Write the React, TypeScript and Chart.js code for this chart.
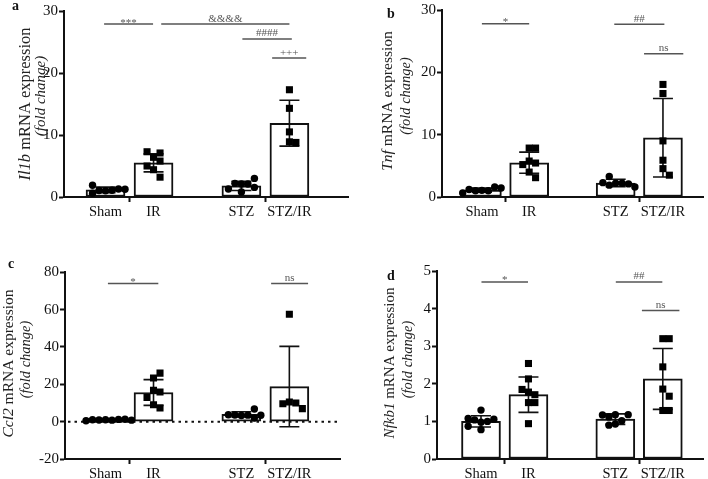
import React, { useEffect, useRef } from 'react';
import { Chart, registerables } from 'chart.js';
Chart.register(...registerables);

const FONT = "'Liberation Serif', 'Times New Roman', serif";
Chart.defaults.font.family = FONT;

const groups = ['Sham', 'IR', 'STZ', 'STZ/IR'];

// ---- a: Il1b ----
const il1bSham = [1.0, 1.1, 1.05, 1.3, 1.9, 1.25, 0.6];
const il1bIR = [6.4, 4.4, 5.8, 7.1, 3.2, 5.0, 7.3];
const il1bSTZ = [2.1, 2.1, 2.2, 3.0, 1.55, 1.3, 0.8];
const il1bSTZIR = [17.3, 14.3, 10.5, 8.9, 8.8];
const il1bMean = [1.15, 5.5, 1.8, 11.9];
const il1bSD = [0.45, 1.45, 0.75, 3.7];
const il1bSigLabels = ['***', '&&&&', '####', '+++'];
const il1bSigY = [27.9, 27.9, 25.5, 22.4];

// ---- b: Tnf ----
const tnfSham = [1.07, 1.0, 1.0, 1.6, 1.2, 1.45, 0.65];
const tnfIR = [5.77, 7.85, 4.0, 5.45, 7.85, 3.1, 5.2];
const tnfSTZ = [2.2, 2.2, 1.9, 3.3, 2.1, 2.3, 1.6];
const tnfSTZIR = [18.06, 16.6, 9.0, 5.9, 4.55, 3.5];
const tnfMean = [1.1, 5.5, 2.25, 9.5];
const tnfSD = [0.33, 1.7, 0.6, 6.3];
const tnfSigLabels = ['*', '##', 'ns'];
const tnfSigY = [27.8, 27.7, 23.0];

// ---- c: Ccl2 ----
const ccl2Sham = [1.0, 0.8, 0.9, 1.2, 1.0, 1.3, 0.5, 0.8];
const ccl2IR = [16.8, 23.4, 9.1, 15.9, 26.0, 7.3, 12.9];
const ccl2STZ = [3.3, 3.5, 3.6, 6.8, 3.7, 3.4, 2.0];
const ccl2STZIR = [10.5, 10.0, 57.5, 9.6, 7.0];
const ccl2Mean = [0.95, 15.6, 3.9, 18.8];
const ccl2SD = [0.25, 6.9, 1.4, 21.5];
const ccl2SigLabels = ['*', 'ns'];
const ccl2SigY = [74, 74];

// ---- d: Nfkb1 ----
const nfkb1Sham = [0.98, 1.0, 1.04, 1.3, 1.06, 0.87, 1.08, 0.78];
const nfkb1IR = [1.78, 1.5, 2.54, 2.13, 1.71, 1.5, 1.85, 0.94];
const nfkb1STZ = [1.18, 1.02, 1.12, 0.93, 1.18, 0.9, 1.17];
const nfkb1STZIR = [3.2, 3.2, 2.45, 1.86, 1.67, 1.29, 1.29];
const nfkb1Mean = [1.0, 1.71, 1.06, 2.13];
const nfkb1SD = [0.15, 0.47, 0.14, 0.81];
const nfkb1SigLabels = ['*', '##', 'ns'];
const nfkb1SigY = [4.71, 4.71, 3.95];

// ---- layout (not data) ----
const groupX = [1, 2, 3.83, 4.83];
const separatorX = [1.5, 4.33];

type Panel = {
  letter: string; gene: string;
  points: number[][]; mean: number[]; sd: number[];
  sigLabels: string[]; sigY: number[]; sigSpan: number[][];
  yMin: number; yMax: number; yStep: number; zeroLine?: boolean;
  box: { left: number; top: number; w: number; h: number };
  area: { left: number; right: number; top: number; bottom: number };
  xMin: number; xMax: number;
  titleX: number[]; titleY: number[]; titleSize: number[]; letterPos: number[];
};

const panels: Panel[] = [
  {
    letter: 'a', gene: 'Il1b',
    points: [il1bSham, il1bIR, il1bSTZ, il1bSTZIR], mean: il1bMean, sd: il1bSD,
    sigLabels: il1bSigLabels, sigY: il1bSigY,
    sigSpan: [[0.97, 1.99], [2.16, 4.83], [3.85, 4.88], [4.47, 5.18]],
    yMin: 0, yMax: 30, yStep: 10,
    box: { left: 0, top: 0, w: 354, h: 240 },
    area: { left: 64, right: 348, top: 11, bottom: 197 },
    xMin: 0.135, xMax: 6.05, titleX: [26, 41], titleY: [104, 96], titleSize: [16.5, 15], letterPos: [12, 10],
  },
  {
    letter: 'b', gene: 'Tnf',
    points: [tnfSham, tnfIR, tnfSTZ, tnfSTZIR], mean: tnfMean, sd: tnfSD,
    sigLabels: tnfSigLabels, sigY: tnfSigY,
    sigSpan: [[1, 2], [3.8, 4.86], [4.43, 5.26]],
    yMin: 0, yMax: 30, yStep: 10,
    box: { left: 354, top: 0, w: 354, h: 240 },
    area: { left: 88, right: 353, top: 9.5, bottom: 197 },
    xMin: 0.156, xMax: 5.677, titleX: [34, 52], titleY: [101, 96], titleSize: [15.5, 14.5], letterPos: [33, 17.5],
  },
  {
    letter: 'c', gene: 'Ccl2',
    points: [ccl2Sham, ccl2IR, ccl2STZ, ccl2STZIR], mean: ccl2Mean, sd: ccl2SD,
    sigLabels: ccl2SigLabels, sigY: ccl2SigY,
    sigSpan: [[1.05, 2.1], [4.45, 5.22]],
    yMin: -20, yMax: 80, yStep: 20, zeroLine: true,
    box: { left: 0, top: 240, w: 354, h: 239 },
    area: { left: 65, right: 340, top: 32.3, bottom: 219 },
    xMin: 0.156, xMax: 5.885, titleX: [9, 26], titleY: [123.5, 119.5], titleSize: [15.5, 14.5], letterPos: [8, 27.5],
  },
  {
    letter: 'd', gene: 'Nfkb1',
    points: [nfkb1Sham, nfkb1IR, nfkb1STZ, nfkb1STZIR], mean: nfkb1Mean, sd: nfkb1SD,
    sigLabels: nfkb1SigLabels, sigY: nfkb1SigY,
    sigSpan: [[1.01, 1.99], [3.84, 4.82], [4.39, 5.18]],
    yMin: 0, yMax: 5, yStep: 1,
    box: { left: 354, top: 240, w: 354, h: 239 },
    area: { left: 83, right: 352, top: 31, bottom: 219 },
    xMin: 0.073, xMax: 5.677, titleX: [36, 54], titleY: [123, 119.5], titleSize: [15, 14.5], letterPos: [33, 39.5],
  },
];

// column beeswarm: spreads overlapping points sideways (pixel offsets -> x units)
function swarm(values: number[], pxPerY: number, pxPerX: number, step = 6.5, size = 7.5) {
  const placed: { dx: number; py: number }[] = [];
  return values.map((v) => {
    const py = v * pxPerY;
    for (let k = 0; k < 50; k++) {
      const dx = k === 0 ? 0 : (k % 2 ? 1 : -1) * Math.ceil(k / 2) * step;
      if (placed.every((p) => Math.abs(p.dx - dx) >= step * 0.9 || Math.abs(p.py - py) >= size)) {
        placed.push({ dx, py });
        return dx / pxPerX;
      }
    }
    return 0;
  });
}

function drawRich(ctx: CanvasRenderingContext2D, parts: [string, boolean][], cx: number, cy: number, size: number) {
  ctx.save();
  ctx.translate(cx, cy);
  ctx.rotate(-Math.PI / 2);
  const fonts = parts.map(([, it]) => `${it ? 'italic ' : ''}${size}px ${FONT}`);
  const widths = parts.map(([t], i) => { ctx.font = fonts[i]; return ctx.measureText(t).width; });
  const total = widths.reduce((a, b) => a + b, 0);
  let x = -total / 2;
  ctx.textBaseline = 'middle';
  ctx.textAlign = 'left';
  ctx.fillStyle = '#222';
  parts.forEach(([t], i) => { ctx.font = fonts[i]; ctx.fillText(t, x, 0); x += widths[i]; });
  ctx.restore();
}

function PanelChart({ p }: { p: Panel }) {
  const ref = useRef<HTMLCanvasElement>(null);
  useEffect(() => {
    const pxPerY = (p.area.bottom - p.area.top) / (p.yMax - p.yMin);
    const pxPerX = (p.area.right - p.area.left) / (p.xMax - p.xMin);
    const tickVals = [...groupX, ...separatorX].sort((a, b) => a - b);
    const isSep = (v: number) => separatorX.some((s) => Math.abs(s - v) < 1e-6);

    const decor = {
      id: 'decor',
      beforeDatasetsDraw(chart: any) {
        if (!p.zeroLine) return;
        const { ctx, chartArea } = chart;
        const y = chart.scales.y.getPixelForValue(0);
        ctx.save();
        ctx.strokeStyle = '#111';
        ctx.lineWidth = 2;
        ctx.setLineDash([2.5, 4]);
        ctx.beginPath();
        ctx.moveTo(chartArea.left + 3, y);
        ctx.lineTo(chartArea.right, y);
        ctx.stroke();
        ctx.restore();
      },
      afterDatasetDraw(chart: any, args: any) {
        if (args.index !== 0) return;
        const { ctx } = chart;
        const xs = chart.scales.x, ys = chart.scales.y;
        ctx.save();
        ctx.strokeStyle = '#111';
        ctx.lineWidth = 1.6;
        groupX.forEach((g, i) => {
          const x = xs.getPixelForValue(g);
          const yT = ys.getPixelForValue(p.mean[i] + p.sd[i]);
          const yB = ys.getPixelForValue(p.mean[i] - p.sd[i]);
          ctx.beginPath();
          ctx.moveTo(x, yT); ctx.lineTo(x, yB);
          ctx.moveTo(x - 10, yT); ctx.lineTo(x + 10, yT);
          ctx.moveTo(x - 10, yB); ctx.lineTo(x + 10, yB);
          ctx.stroke();
        });
        ctx.restore();
      },
      afterDraw(chart: any) {
        const { ctx } = chart;
        const xs = chart.scales.x, ys = chart.scales.y;
        ctx.save();
        p.sigLabels.forEach((lab, i) => {
          const x1 = xs.getPixelForValue(p.sigSpan[i][0]);
          const x2 = xs.getPixelForValue(p.sigSpan[i][1]);
          const y = ys.getPixelForValue(p.sigY[i]);
          ctx.strokeStyle = '#555';
          ctx.lineWidth = 1.5;
          ctx.beginPath(); ctx.moveTo(x1, y); ctx.lineTo(x2, y); ctx.stroke();
          ctx.fillStyle = '#555';
          ctx.font = `11px ${FONT}`;
          ctx.textAlign = 'center';
          ctx.textBaseline = 'alphabetic';
          ctx.fillText(lab, (x1 + x2) / 2, lab.startsWith('*') ? y + 1.5 : y - 2.5);
        });
        ctx.restore();
        drawRich(ctx, [[p.gene, true], [' mRNA expression', false]], p.titleX[0], p.titleY[0], p.titleSize[0]);
        drawRich(ctx, [['(fold change)', true]], p.titleX[1], p.titleY[1], p.titleSize[1]);
        ctx.save();
        ctx.font = `bold 14px ${FONT}`;
        ctx.fillStyle = '#111';
        ctx.textAlign = 'left';
        ctx.textBaseline = 'alphabetic';
        ctx.fillText(p.letter, p.letterPos[0], p.letterPos[1]);
        ctx.restore();
      },
    };

    const scatterSets = p.points.map((vals, gi) => {
      const offs = swarm(vals, pxPerY, pxPerX);
      const circle = gi % 2 === 0;
      return {
        type: 'scatter' as const,
        data: vals.map((v, j) => ({ x: groupX[gi] + offs[j], y: v })),
        pointStyle: circle ? 'circle' : 'rect',
        pointRadius: circle ? 3.7 : 5,
        backgroundColor: '#000',
        borderColor: '#000',
        borderWidth: 0,
        order: 1,
      };
    });

    const chart = new Chart(ref.current as HTMLCanvasElement, {
      type: 'bar',
      data: {
        datasets: [
          {
            type: 'bar',
            data: groupX.map((x, i) => ({ x, y: p.mean[i] })),
            backgroundColor: '#fff',
            borderColor: '#111',
            borderWidth: 2,
            borderSkipped: false,
            barThickness: 39,
            order: 2,
          } as any,
          ...(scatterSets as any[]),
        ],
      },
      options: {
        responsive: false,
        animation: false,
        layout: { padding: { left: 0, top: p.area.top, right: p.box.w - p.area.right, bottom: 0 } },
        plugins: { legend: { display: false }, tooltip: { enabled: false } },
        scales: {
          x: {
            type: 'linear',
            offset: false,
            min: p.xMin,
            max: p.xMax,
            afterBuildTicks: (s: any) => { s.ticks = tickVals.map((v) => ({ value: v })); },
            afterFit: (s: any) => { s.height = p.box.h - p.area.bottom; s.paddingLeft = 0; s.paddingRight = 0; },
            ticks: {
              autoSkip: false,
              maxRotation: 0,
              color: '#111',
              font: { size: 14.5, family: FONT },
              padding: 1,
              callback: (v: any) => {
                const i = groupX.findIndex((g) => Math.abs(g - Number(v)) < 1e-6);
                return i >= 0 ? groups[i] : '';
              },
            },
            grid: {
              offset: false,
              drawOnChartArea: false,
              drawTicks: true,
              tickLength: 5,
              tickWidth: 2,
              tickColor: (ctx: any) => (ctx.tick && isSep(ctx.tick.value) ? '#111' : 'rgba(0,0,0,0)'),
            },
            border: { color: '#111', width: 2 },
          },
          y: {
            min: p.yMin,
            max: p.yMax,
            afterFit: (s: any) => { s.width = p.area.left; },
            ticks: { stepSize: p.yStep, color: '#111', font: { size: 15, family: FONT }, padding: 1 },
            grid: { drawOnChartArea: false, tickLength: 5, tickWidth: 2, tickColor: '#111' },
            border: { color: '#111', width: 2 },
          },
        },
      } as any,
      plugins: [decor as any],
    });
    return () => chart.destroy();
  }, [p]);
  return (
    <canvas
      ref={ref}
      width={p.box.w}
      height={p.box.h}
      style={{ position: 'absolute', left: p.box.left, top: p.box.top, width: p.box.w, height: p.box.h }}
    />
  );
}

export default function App() {
  return (
    <div style={{ position: 'absolute', left: 0, top: 0, width: 708, height: 479, background: '#fff', overflow: 'hidden' }}>
      {panels.map((p) => (
        <PanelChart key={p.letter} p={p} />
      ))}
    </div>
  );
}
